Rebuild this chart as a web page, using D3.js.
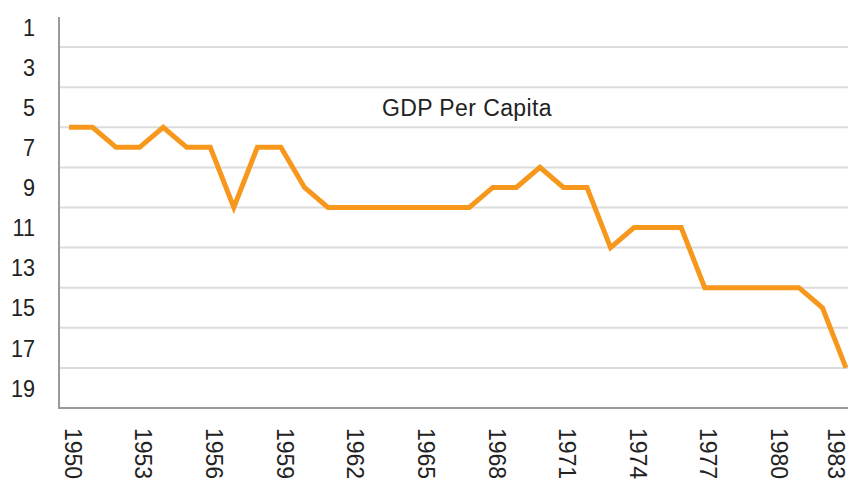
<!DOCTYPE html>
<html><head><meta charset="utf-8">
<script src="https://cdn.jsdelivr.net/npm/d3@7"></script>
<style>body{margin:0;background:#fff;} svg{display:block;font-family:"Liberation Sans",Arial,sans-serif;}</style>
</head><body>
<svg id="c" width="848" height="480"></svg>
<script>
const years = d3.range(1950, 1984);
const gdpRank = [6,6,7,7,6,7,7,10,7,7,9,10,10,10,10,10,10,10,9,9,8,9,9,12,11,11,11,14,14,14,14,14,15,18];
const yTickLabels = [1,3,5,7,9,11,13,15,17,19];
const gridValues = [2,4,6,8,10,12,14,16,18];
const xTickYears = d3.range(1950, 1984, 3);
const title = "GDP Per Capita";

const svg = d3.select("#c");
const x = d3.scaleLinear().domain([1950, 1983]).range([69, 846]);
const y = d3.scaleLinear().domain([0, 20]).range([7, 408]);

svg.append("g").selectAll("line").data(gridValues).join("line")
  .attr("x1", 59).attr("x2", 848).attr("y1", d => y(d)).attr("y2", d => y(d))
  .attr("stroke", "#dcdcdc").attr("stroke-width", 2);

svg.append("line").attr("x1", 59).attr("x2", 59).attr("y1", 17).attr("y2", y(20))
  .attr("stroke", "#9a9a9a").attr("stroke-width", 2);
svg.append("line").attr("x1", 58).attr("x2", 848).attr("y1", y(20)).attr("y2", y(20))
  .attr("stroke", "#9a9a9a").attr("stroke-width", 2);

svg.append("g").selectAll("text").data(yTickLabels).join("text")
  .attr("transform", d => `translate(35,${y(d)}) scale(0.9,1)`)
  .attr("dy", "0.36em")
  .attr("text-anchor", "end").attr("font-size", 24).attr("fill", "#222")
  .text(d => d);

svg.append("g").selectAll("text").data(xTickYears).join("text")
  .attr("transform", d => `translate(${Math.min(x(d) + 4, 836)},428) rotate(90)`)
  .attr("dy", "0.36em").attr("text-anchor", "start")
  .attr("font-size", 23).attr("fill", "#222")
  .text(d => d);

svg.append("text").attr("x", 467).attr("y", 116).attr("text-anchor", "middle")
  .attr("font-size", 23).attr("letter-spacing", 0.4).attr("fill", "#222").text(title);

const line = d3.line().x((d, i) => x(years[i])).y(d => y(d));
svg.append("path").datum(gdpRank).attr("d", line)
  .attr("fill", "none").attr("stroke", "#F7981D").attr("stroke-width", 5)
  .attr("stroke-linejoin", "miter");
</script>
</body></html>
